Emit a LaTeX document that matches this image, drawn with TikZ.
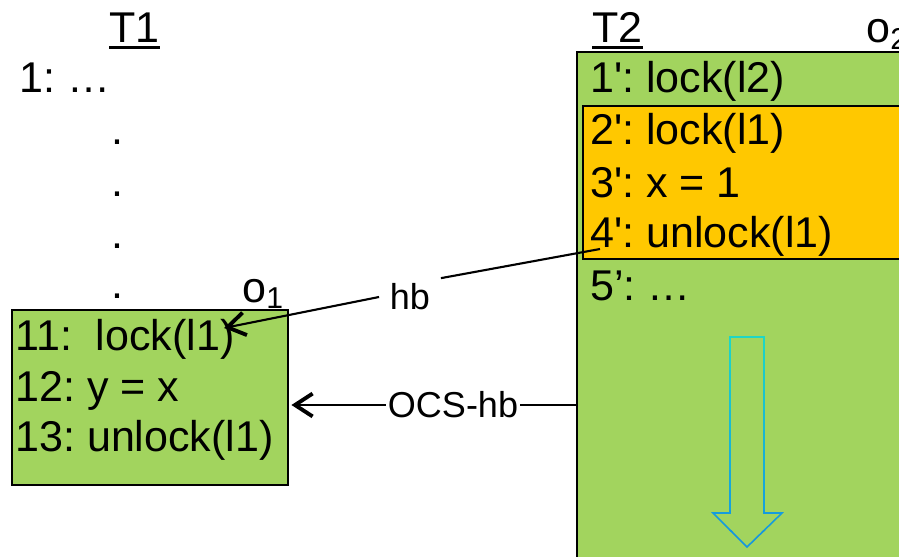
\documentclass[tikz,border=0pt]{standalone}
\usepackage{fontspec}
\setmainfont{Liberation Sans}[Ligatures=TeXOff]
\usepackage{tikz}
\usetikzlibrary{arrows.meta, positioning}
\definecolor{objgreen}{HTML}{A2D45E}
\definecolor{critorange}{HTML}{FFC800}
\definecolor{flowtop}{HTML}{1ED6C6}
\definecolor{flowbot}{HTML}{1496E0}
\tikzstyle{objbox}  = [rectangle, draw=black, line width=1pt, fill=objgreen,
                       inner sep=0pt, outer sep=0pt, anchor=north west]
\tikzstyle{critbox} = [objbox, fill=critorange]
\tikzstyle{stmt}    = [anchor=base west, inner sep=0pt, font=\fontsize{24.5}{28}\selectfont]
\tikzstyle{edgelbl} = [font=\fontsize{20.5}{24}\selectfont, inner sep=1pt]
\tikzstyle{link}    = [line width=1.2pt]
\tikzstyle{arrow}   = [-{Straight Barb[length=10pt,width=13pt,line width=2.2pt]}, line width=1.2pt]

\begin{document}
\frenchspacing
\begin{tikzpicture}[x=0.02cm, y=-0.02cm]
  \useasboundingbox (0,0) rectangle (899,557);
  \clip (0,0) rectangle (899,557);

  %% Thread T1
  \node[stmt] (t1) at (109,43) {T1};
  \draw[line width=1.6pt] ([yshift=-2.6pt]t1.base west) -- ([yshift=-2.6pt]t1.base east);
  \node[stmt] (s1) at (19,93) {1: …};
  \foreach \y [count=\i] in {145,197,249,298}
    \node[stmt] (dot\i) at (111,\y) {.};
  \node[stmt] (o1) at (242,302) {o\textsubscript{1}};

  %% object o1
  \node[objbox, minimum width=5.52cm, minimum height=3.5cm] (o1box) at (12,310) {};
  \node[stmt] (l11) at (15,350) {11:\ \ lock(l1)};
  \node[stmt] (l12) at (15,401) {12: y = x};
  \node[stmt] (l13) at (15,451) {13: unlock(l1)};

  %% Thread T2
  \node[stmt] (t2) at (592,43) {T2};
  \draw[line width=1.6pt] ([yshift=-2.6pt]t2.base west) -- ([yshift=-2.6pt]t2.base east);
  \node[stmt] (o2) at (866,43) {o\textsubscript{2}};

  %% object o2 with critical section
  \node[objbox, minimum width=6.8cm, minimum height=10.6cm] (o2box) at (577,52) {};
  \node[critbox, minimum width=6.7cm, minimum height=3.06cm] (crit) at (583,106) {};
  \node[stmt] (p1) at (590,93) {1': lock(l2)};
  \node[stmt] (p2) at (590,145) {2': lock(l1)};
  \node[stmt] (p3) at (590,198) {3': x = 1};
  \node[stmt] (p4) at (590,248) {4': unlock(l1)};
  \node[stmt] (p5) at (590,300) {5’: …};

  %% flow arrow
  \foreach \k in {0,...,10} {
    \pgfmathtruncatemacro{\mix}{100-10*\k}
    \begin{scope}
      \clip (700,{330+20*\k}) rectangle (800,{351+20*\k});
      \draw[line width=0.9pt, draw=flowtop!\mix!flowbot]
        (730,337) -- (764,337) -- (764,513) -- (782,513) -- (747,547)
        -- (713,513) -- (730,513) -- cycle;
    \end{scope}
  }

  %% hb edge
  \coordinate (hbstart) at (600,249);
  \coordinate (hbtip) at (224,328);
  \node[edgelbl, inner xsep=6pt, inner ysep=3pt] (hb) at (410,297) {hb};
  \draw[link] (hbstart) -- (hb.north east);
  \draw[arrow] (hb.west) -- (hbtip);

  %% OCS-hb edge
  \node[edgelbl] (ocs) at (453,405) {OCS-hb};
  \draw[link] (o2box.west |- ocs) -- (ocs);
  \draw[arrow, shorten >=2pt] (ocs) -- (o1box.east |- ocs);

\end{tikzpicture}
\end{document}
